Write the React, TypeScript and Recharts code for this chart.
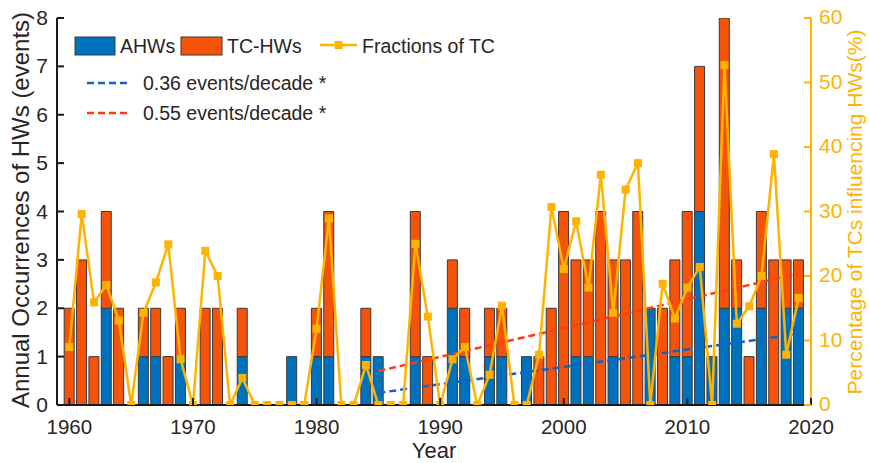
import React from 'react';
import { ComposedChart, Bar, Line, XAxis, YAxis } from 'recharts';

const years = [
  1960, 1961, 1962, 1963, 1964, 1965, 1966, 1967, 1968, 1969,
  1970, 1971, 1972, 1973, 1974, 1975, 1976, 1977, 1978, 1979,
  1980, 1981, 1982, 1983, 1984, 1985, 1986, 1987, 1988, 1989,
  1990, 1991, 1992, 1993, 1994, 1995, 1996, 1997, 1998, 1999,
  2000, 2001, 2002, 2003, 2004, 2005, 2006, 2007, 2008, 2009,
  2010, 2011, 2012, 2013, 2014, 2015, 2016, 2017, 2018, 2019,
];

const ahws = [
  0, 0, 0, 2, 0, 0, 1, 1, 0, 1,
  0, 0, 0, 0, 1, 0, 0, 0, 1, 0,
  1, 1, 0, 0, 1, 1, 0, 0, 1, 0,
  0, 2, 1, 0, 1, 1, 0, 1, 0, 0,
  0, 1, 1, 0, 1, 0, 0, 2, 0, 1,
  1, 4, 1, 2, 2, 0, 2, 0, 2, 2,
];

const tcHws = [
  2, 3, 1, 2, 2, 0, 1, 1, 1, 1,
  0, 2, 2, 0, 1, 0, 0, 0, 0, 0,
  1, 3, 0, 0, 1, 0, 0, 0, 3, 1,
  0, 1, 1, 0, 1, 1, 0, 0, 1, 2,
  4, 2, 2, 4, 2, 3, 4, 0, 2, 2,
  3, 3, 0, 6, 1, 1, 2, 3, 1, 1,
];

const fractionTC = [
  9.0, 29.6, 15.9, 18.6, 13.1, 0, 14.3, 19.0, 24.9, 7.1,
  0, 23.9, 20.0, 0, 4.2, 0, 0, 0, 0, 0,
  11.8, 28.9, 0, 0, 6.2, 0, 0, 0, 25.0, 13.7,
  0, 7.1, 9.0, 0, 4.7, 15.4, 0, 0, 7.8, 30.7,
  21.1, 28.5, 18.2, 35.7, 14.3, 33.4, 37.5, 0, 18.8, 13.4,
  18.2, 21.4, 0, 52.7, 12.6, 15.3, 20.0, 38.9, 7.8, 16.6,
];

const trendAhwYears = [1985, 2019];
const trendAhwValues = [0.25, 1.47];
const trendTcYears = [1985, 2019];
const trendTcValues = [0.7, 2.72];

const xTicks = [1960, 1970, 1980, 1990, 2000, 2010, 2020];
const leftTicks = [0, 1, 2, 3, 4, 5, 6, 7, 8];
const rightTicks = [0, 10, 20, 30, 40, 50, 60];

const data = years.map((y, i) => ({ year: y, ahw: ahws[i], tc: tcHws[i], frac: fractionTC[i] }));
const trendAhw = trendAhwYears.map((y, i) => ({ year: y, v: trendAhwValues[i] }));
const trendTc = trendTcYears.map((y, i) => ({ year: y, v: trendTcValues[i] }));

const BLUE = '#0072BD';
const ORANGE = '#F5530A';
const GOLD = '#FFB300';
const TBLUE = '#1560C0';
const TRED = '#FF3A12';
const AXIS = '#1a1a1a';
const TEXT = '#2b2424';
const FONT = '"Liberation Sans", Arial, Helvetica, sans-serif';

const BottomTick = (props: any) => {
  const { x, y, payload } = props;
  return (
    <g>
      <line x1={x} x2={x} y1={y} y2={y - 7} stroke={AXIS} strokeWidth={2} />
      <text x={x} y={y + 29} textAnchor="middle" fontSize={20.5} fill={TEXT} fontFamily={FONT}>
        {payload.value}
      </text>
    </g>
  );
};

const TopTick = (props: any) => {
  const { x, y } = props;
  return <line x1={x} x2={x} y1={y} y2={y + 7} stroke={AXIS} strokeWidth={2} />;
};

const LeftTick = (props: any) => {
  const { x, y, payload } = props;
  return (
    <g>
      <line x1={x} x2={x + 7} y1={y} y2={y} stroke={AXIS} strokeWidth={2} />
      <text x={x - 9} y={y + 7} textAnchor="end" fontSize={21} fill={TEXT} fontFamily={FONT}>
        {payload.value}
      </text>
    </g>
  );
};

const RightTick = (props: any) => {
  const { x, y, payload } = props;
  return (
    <g>
      <line x1={x} x2={x - 7} y1={y} y2={y} stroke={GOLD} strokeWidth={2} />
      <text x={x + 8} y={y + 6} textAnchor="start" fontSize={21} fill={GOLD} fontFamily={FONT}>
        {payload.value}
      </text>
    </g>
  );
};

const SquareDot = (props: any) => {
  const { cx, cy } = props;
  if (cx == null || cy == null) return null;
  return <rect x={cx - 4} y={cy - 4} width={8} height={8} fill={GOLD} />;
};

export default function App() {
  return (
    <div style={{ position: 'absolute', left: 0, top: 0, width: 869, height: 463, background: '#fff' }}>
      <ComposedChart
        width={869}
        height={463}
        data={data}
        margin={{ top: 18, right: 0, bottom: 0, left: 0 }}
      >
        <XAxis
          dataKey="year"
          type="number"
          domain={[1959, 2020]}
          ticks={xTicks}
          height={58}
          axisLine={{ stroke: AXIS, strokeWidth: 2 }}
          tickLine={false}
          tickSize={0}
          tickMargin={0}
          tick={<BottomTick />}
          interval={0}
          allowDataOverflow
        />
        <XAxis
          xAxisId="top"
          orientation="top"
          dataKey="year"
          type="number"
          domain={[1959, 2020]}
          ticks={xTicks}
          height={0}
          axisLine={{ stroke: AXIS, strokeWidth: 2 }}
          tickLine={false}
          tickSize={0}
          tickMargin={0}
          tick={<TopTick />}
          interval={0}
          allowDataOverflow
        />
        <YAxis
          yAxisId="left"
          orientation="left"
          domain={[0, 8]}
          ticks={leftTicks}
          width={57}
          axisLine={{ stroke: AXIS, strokeWidth: 2 }}
          tickLine={false}
          tickSize={0}
          tickMargin={0}
          tick={<LeftTick />}
          interval={0}
          allowDataOverflow
        />
        <YAxis
          yAxisId="right"
          orientation="right"
          domain={[0, 60]}
          ticks={rightTicks}
          width={58}
          axisLine={{ stroke: GOLD, strokeWidth: 2 }}
          tickLine={false}
          tickSize={0}
          tickMargin={0}
          tick={<RightTick />}
          interval={0}
          allowDataOverflow
        />
        <Bar
          dataKey="ahw"
          stackId="a"
          yAxisId="left"
          fill={BLUE}
          stroke="#3a3a3a"
          strokeWidth={1}
          barSize={10}
          isAnimationActive={false}
        />
        <Bar
          dataKey="tc"
          stackId="a"
          yAxisId="left"
          fill={ORANGE}
          stroke="#3a3a3a"
          strokeWidth={1}
          barSize={10}
          isAnimationActive={false}
        />
        <Line
          data={trendAhw}
          dataKey="v"
          yAxisId="left"
          stroke={TBLUE}
          strokeWidth={2.5}
          strokeDasharray="7 4"
          dot={false}
          activeDot={false}
          isAnimationActive={false}
        />
        <Line
          data={trendTc}
          dataKey="v"
          yAxisId="left"
          stroke={TRED}
          strokeWidth={2.5}
          strokeDasharray="7 4"
          dot={false}
          activeDot={false}
          isAnimationActive={false}
        />
        <Line
          dataKey="frac"
          yAxisId="right"
          type="linear"
          stroke={GOLD}
          strokeWidth={2.5}
          dot={<SquareDot />}
          activeDot={false}
          isAnimationActive={false}
        />
      </ComposedChart>
      <svg
        width={869}
        height={463}
        style={{ position: 'absolute', left: 0, top: 0, pointerEvents: 'none' }}
        fontFamily={FONT}
      >
        <text transform="translate(28.5,210) rotate(-90)" textAnchor="middle" fontSize={24} fill={TEXT}>
          Annual Occurrences of HWs (events)
        </text>
        <text transform="translate(862,212) rotate(-90)" textAnchor="middle" fontSize={21} fill={GOLD}>
          Percentage of TCs influencing HWs(%)
        </text>
        <text x={434} y={458.3} textAnchor="middle" fontSize={22} fill={TEXT}>
          Year
        </text>
        <rect x={75} y={37} width={40} height={18} fill={BLUE} stroke="#3a3a3a" strokeWidth={1} />
        <text x={120} y={53} fontSize={19.5} fill={TEXT}>AHWs</text>
        <rect x={181} y={37} width={41} height={18} fill={ORANGE} stroke="#3a3a3a" strokeWidth={1} />
        <text x={227} y={53} fontSize={19.5} fill={TEXT}>TC-HWs</text>
        <line x1={320} x2={357} y1={45} y2={45} stroke={GOLD} strokeWidth={2.5} />
        <rect x={334.5} y={41} width={8} height={8} fill={GOLD} />
        <text x={362} y={53} fontSize={19.5} fill={TEXT}>Fractions of TC</text>
        <line x1={87} x2={128} y1={83} y2={83} stroke={TBLUE} strokeWidth={2.5} strokeDasharray="7 4" />
        <text x={143} y={90} fontSize={19.5} fill={TEXT}>0.36 events/decade *</text>
        <line x1={87} x2={128} y1={113} y2={113} stroke={TRED} strokeWidth={2.5} strokeDasharray="7 4" />
        <text x={143} y={120} fontSize={19.5} fill={TEXT}>0.55 events/decade *</text>
      </svg>
    </div>
  );
}
